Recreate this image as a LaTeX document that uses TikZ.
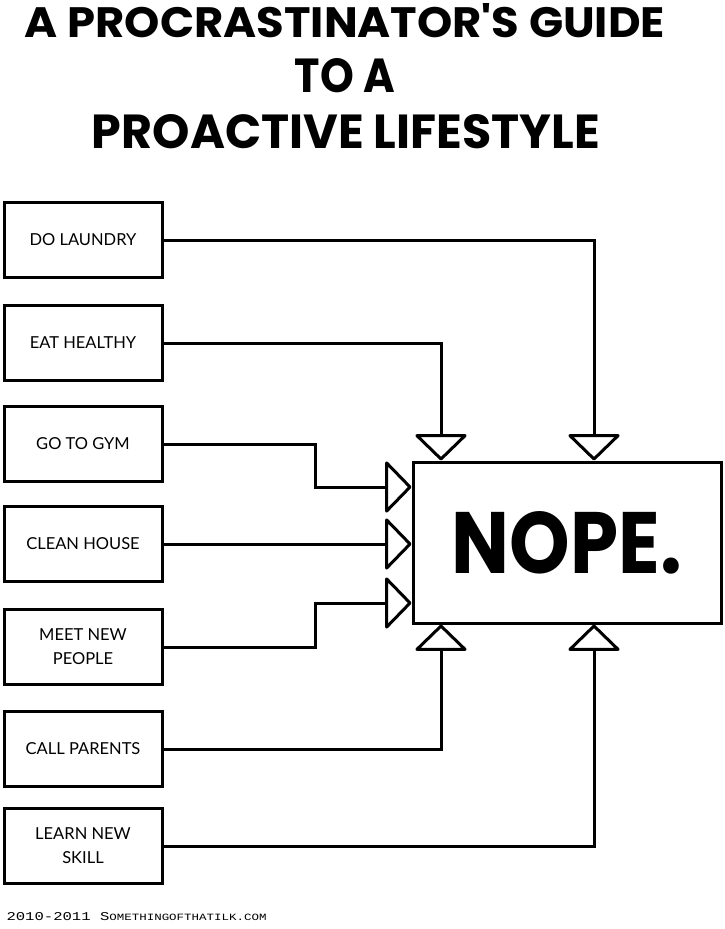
\documentclass[tikz,border=0pt]{standalone}
\usepackage{fontspec}
\usepackage{graphicx}
\usetikzlibrary{arrows.meta}
\newfontfamily\titlef{Poppins}
\newfontfamily\boxf{Lato}
\newfontfamily\footf{Liberation Mono}
\begin{document}
\begin{tikzpicture}[x=1pt,y=-1pt,line width=3pt,
  task/.style={draw, rectangle, minimum width=158pt, minimum height=75pt, inner sep=0pt, align=center,
    font=\boxf\fontsize{16.5}{24}\selectfont},
  nopebox/.style={draw, rectangle, minimum width=308pt, minimum height=161pt, inner sep=0pt},
  tri/.style={-{Triangle[open,round,length=27pt,width=55pt]}},
  titleline/.style={anchor=base, inner sep=0pt},
]
\useasboundingbox (0,0) rectangle (724,929);
\fill[white] (0,0) rectangle (724,929);

% title
\node[titleline] (title1) at (345,37) {\resizebox{640pt}{34pt}{\titlef\bfseries A PROCRASTINATOR'S GUIDE}};
\node[titleline] (title2) at (345,92) {\resizebox{100pt}{34pt}{\titlef\bfseries TO A}};
\node[titleline] (title3) at (346,148) {\resizebox{508pt}{34pt}{\titlef\bfseries PROACTIVE LIFESTYLE}};

% tasks
\node[task] (b1) at (83,240) {DO LAUNDRY};
\node[task] (b2) at (83,343) {EAT HEALTHY};
\node[task] (b3) at (83,444) {GO TO GYM};
\node[task] (b4) at (83,544) {CLEAN HOUSE};
\node[task] (b5) at (83,647) {MEET NEW\\PEOPLE};
\node[task] (b6) at (83,749) {CALL PARENTS};
\node[task] (b7) at (83,846) {LEARN NEW\\SKILL};

% result
\node[nopebox] (nope) at (567,542.5) {\resizebox{230pt}{62pt}{\titlef\bfseries NOPE.}};

% connectors
\draw[tri] (b1.east) -| ([xshift=27pt]nope.north);
\draw[tri] (b2.east) -| ([xshift=-126pt]nope.north);
\draw[tri] (b3.east) -- ++(152,0) |- ([yshift=55.5pt]nope.west);
\draw[tri] (b4.east) -- (b4.east -| nope.west);
\draw[tri] (b5.east) -- ++(152,0) |- ([yshift=-60.5pt]nope.west);
\draw[tri] (b6.east) -| ([xshift=-126pt]nope.south);
\draw[tri] (b7.east) -| ([xshift=27pt]nope.south);

% footer
\node[anchor=base west, inner sep=0pt] (foot) at (5,920) {\resizebox{260pt}{8pt}{\footf\fontsize{10}{12}\selectfont 2010-2011 S{\fontsize{8}{10}\selectfont OMETHINGOFTHATILK.COM}}};
\end{tikzpicture}
\end{document}
